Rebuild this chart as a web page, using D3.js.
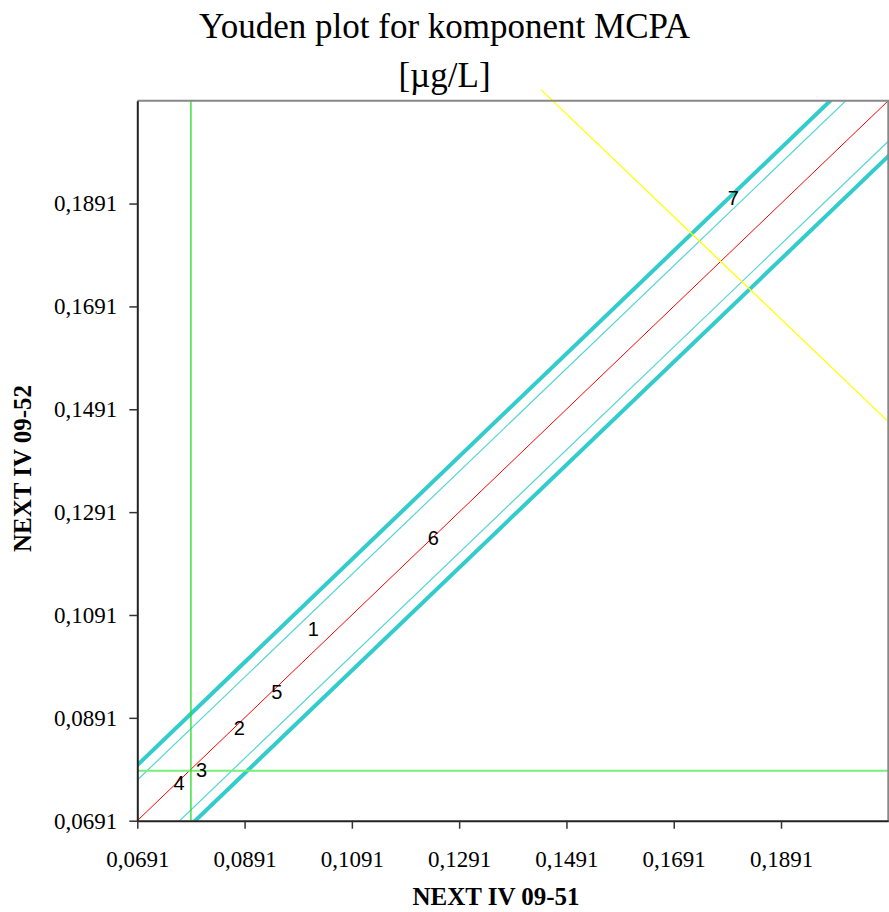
<!DOCTYPE html>
<html>
<head>
<meta charset="utf-8">
<script src="https://cdn.jsdelivr.net/npm/d3@7"></script>
<style>
  body { margin: 0; background: #fff; }
  svg { display: block; }
</style>
</head>
<body>
<div id="chart"></div>
<script>
// Lab results (sample 09-51 vs sample 09-52)
const labIds  = ["1", "2", "3", "4", "5", "6", "7"];
const xValues = [0.1019, 0.0881, 0.0811, 0.0769, 0.0951, 0.1243, 0.1802];
const yValues = [0.1063, 0.0872, 0.0789, 0.0764, 0.0942, 0.1241, 0.1902];

// Medians, diagonal band offsets, perpendicular line
const medianX = 0.0791;
const medianY = 0.0788;
const innerOffset = 0.0079;
const outerOffset = 0.0108;
const perpX = [0.1444, 0.2091];
const perpY = [0.2112, 0.1467];

const tickValues = [0.0691, 0.0891, 0.1091, 0.1291, 0.1491, 0.1691, 0.1891];
const domain = [0.0691, 0.2091];

const width = 889, height = 912;
const margin = { top: 100.7, right: 0.7, bottom: 91.3, left: 137.3 };

const svg = d3.select("#chart")
  .append("svg")
  .attr("width", width)
  .attr("height", height);

const x = d3.scaleLinear()
  .domain(domain)
  .range([margin.left, width - margin.right]);

const y = d3.scaleLinear()
  .domain(domain)
  .range([height - margin.bottom, margin.top]);

const fmt = d => d3.format(".4f")(d).replace(".", ",");

svg.append("clipPath")
  .attr("id", "plot-clip")
  .append("rect")
  .attr("x", x(domain[0]))
  .attr("y", y(domain[1]))
  .attr("width", x(domain[1]) - x(domain[0]))
  .attr("height", y(domain[0]) - y(domain[1]));

const plot = svg.append("g").attr("clip-path", "url(#plot-clip)");

// diagonal lines y = x + offset
const diag = [
  { off: outerOffset, color: "#33cccc", w: 4 },
  { off: innerOffset, color: "#55d5d5", w: 1.2 },
  { off: 0, color: "#ff0000", w: 1 },
  { off: -innerOffset, color: "#55d5d5", w: 1.2 },
  { off: -outerOffset, color: "#33cccc", w: 4 }
];

plot.selectAll("line.diag")
  .data(diag)
  .enter()
  .append("line")
  .attr("class", "diag")
  .attr("x1", d => x(domain[0] - 0.05))
  .attr("y1", d => y(domain[0] - 0.05 + d.off))
  .attr("x2", d => x(domain[1] + 0.05))
  .attr("y2", d => y(domain[1] + 0.05 + d.off))
  .attr("stroke", d => d.color)
  .attr("stroke-width", d => d.w);

// median lines
plot.append("line")
  .attr("x1", x(domain[0])).attr("x2", x(domain[1]))
  .attr("y1", y(medianY)).attr("y2", y(medianY))
  .attr("stroke", "#77ee77")
  .attr("stroke-width", 2);

plot.append("line")
  .attr("x1", x(medianX)).attr("x2", x(medianX))
  .attr("y1", y(domain[0])).attr("y2", y(domain[1]))
  .attr("stroke", "#22dd22")
  .attr("stroke-width", 1.3);

// perpendicular line (not clipped)
svg.append("line")
  .attr("x1", x(perpX[0])).attr("y1", y(perpY[0]))
  .attr("x2", x(perpX[1])).attr("y2", y(perpY[1]))
  .attr("stroke", "#ffff00")
  .attr("stroke-width", 1.3);

// plot border (top/right)
svg.append("path")
  .attr("d", `M${x(domain[0])},${y(domain[1])}H${x(domain[1])}V${y(domain[0])}`)
  .attr("fill", "none")
  .attr("stroke", "#888")
  .attr("stroke-width", 2);

// point labels
svg.append("g")
  .selectAll("text")
  .data(labIds)
  .enter()
  .append("text")
  .attr("x", (d, i) => x(xValues[i]))
  .attr("y", (d, i) => y(yValues[i]))
  .attr("text-anchor", "middle")
  .attr("dominant-baseline", "central")
  .style("font-family", "'Liberation Sans', Arial, sans-serif")
  .style("font-size", "20px")
  .attr("fill", "#000")
  .text(d => d);

// X Axis
const xAxis = svg.append("g")
  .attr("transform", `translate(0,${y(domain[0])})`)
  .call(d3.axisBottom(x).tickValues(tickValues).tickFormat(fmt).tickSize(8).tickSizeOuter(0).tickPadding(22));

// Y Axis
const yAxis = svg.append("g")
  .attr("transform", `translate(${x(domain[0])},0)`)
  .call(d3.axisLeft(y).tickValues(tickValues).tickFormat(fmt).tickSize(8).tickSizeOuter(0).tickPadding(12));

[xAxis, yAxis].forEach(g => {
  g.select(".domain").attr("stroke", "#222").attr("stroke-width", 2);
  g.selectAll(".tick line").attr("stroke", "#333").attr("stroke-width", 1.5);
  g.selectAll(".tick text")
    .attr("fill", "#000")
    .style("font-family", "'Liberation Serif', 'Times New Roman', serif")
    .style("font-size", "23px");
});

// Title
svg.append("text")
  .attr("x", 444.5)
  .attr("y", 38)
  .attr("text-anchor", "middle")
  .style("font-family", "'Liberation Serif', 'Times New Roman', serif")
  .style("font-size", "35px")
  .text("Youden plot for komponent MCPA");

svg.append("text")
  .attr("x", 444.5)
  .attr("y", 87)
  .attr("text-anchor", "middle")
  .style("font-family", "'Liberation Serif', 'Times New Roman', serif")
  .style("font-size", "35px")
  .text("[µg/L]");

// Axis titles
svg.append("text")
  .attr("x", 496)
  .attr("y", 905)
  .attr("text-anchor", "middle")
  .style("font-family", "'Liberation Serif', 'Times New Roman', serif")
  .style("font-size", "25px")
  .style("font-weight", "bold")
  .text("NEXT IV 09-51");

svg.append("text")
  .attr("transform", "rotate(-90)")
  .attr("x", -468.5)
  .attr("y", 31)
  .attr("text-anchor", "middle")
  .style("font-family", "'Liberation Serif', 'Times New Roman', serif")
  .style("font-size", "25px")
  .style("font-weight", "bold")
  .text("NEXT IV 09-52");
</script>
</body>
</html>
